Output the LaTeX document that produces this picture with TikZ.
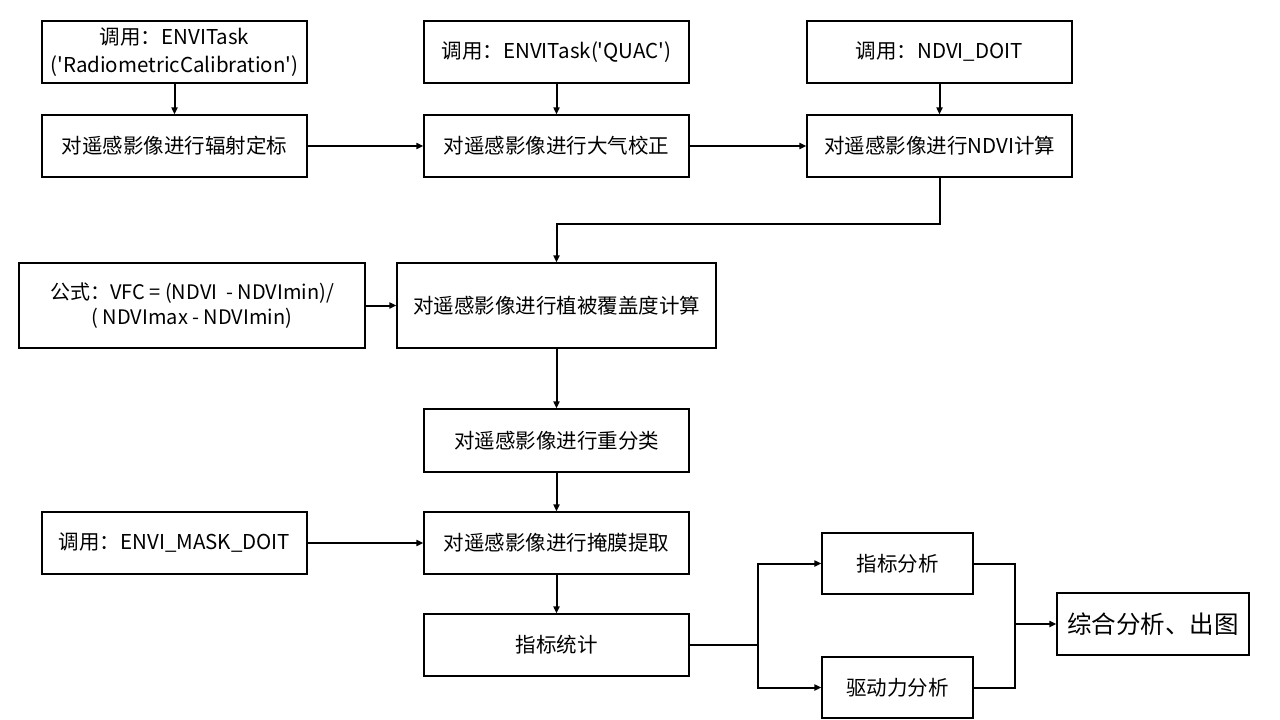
\documentclass[tikz,border=0pt]{standalone}
\usepackage{fontspec}
\setmainfont{Noto Sans CJK SC}[Ligatures=TeXOff]
\usetikzlibrary{arrows.meta}
\begin{document}
\begin{tikzpicture}[x=1pt,y=-1pt,
  box/.style={draw=black,line width=1.2pt,inner sep=0pt,align=center,
    font=\fontsize{20.5}{28}\selectfont,minimum width=265pt,minimum height=62pt},
  conn/.style={line width=2pt},
  arr/.style={conn,-{Triangle[length=7pt,width=6pt]}}]
\useasboundingbox (0,0) rectangle (1280,720);
\node[box] (c1) at (174.5,52) {调用：ENVITask\\('RadiometricCalibration')};
\node[box] (b1) at (174.5,146) {对遥感影像进行辐射定标};
\node[box] (c2) at (556.5,52) {调用：ENVITask('QUAC')};
\node[box] (b2) at (556.5,146) {对遥感影像进行大气校正};
\node[box] (c3) at (939.5,52) {调用：NDVI\_DOIT};
\node[box] (b3) at (939.5,146) {对遥感影像进行NDVI计算};
\node[box,minimum width=346pt,minimum height=85pt,font=\fontsize{20}{25}\selectfont] (f) at (192,305.5) {公式：VFC = (NDVI\ \ - NDVImin)/\\( NDVImax - NDVImin)};
\node[box,minimum width=319pt,minimum height=85pt] (b4) at (556.5,305.5) {对遥感影像进行植被覆盖度计算};
\node[box,minimum height=63pt] (b5) at (556.5,440.5) {对遥感影像进行重分类};
\node[box] (c4) at (174.5,543) {调用：ENVI\_MASK\_DOIT};
\node[box] (b6) at (556.5,543) {对遥感影像进行掩膜提取};
\node[box] (b7) at (556.5,645) {指标统计};
\node[box,minimum width=151pt,minimum height=61pt] (a1) at (897.5,563.5) {指标分析};
\node[box,minimum width=151pt,minimum height=61pt] (a2) at (897.5,687.5) {驱动力分析};
\node[box,minimum width=192pt,minimum height=62pt,font=\fontsize{24.5}{30}\selectfont] (fin) at (1153,624) {综合分析、出图};
\coordinate (j) at (1015,624);
\draw[arr] (c1) -- (b1);
\draw[arr] (c2) -- (b2);
\draw[arr] (c3) -- (b3);
\draw[arr] (b1) -- (b2);
\draw[arr] (b2) -- (b3);
\draw[arr] (b3.south) -- ++(0,46) -| (b4.north);
\draw[arr] (f) -- (b4);
\draw[arr] (b4) -- (b5);
\draw[arr] (b5) -- (b6);
\draw[arr] (c4) -- (b6);
\draw[arr] (b6) -- (b7);
\draw[arr] (b7.east) -- ++(68,0) |- (a1.west);
\draw[arr] (b7.east) -- ++(68,0) |- (a2.west);
\draw[conn] (a1.east) -| (j);
\draw[conn] (a2.east) -| (j);
\draw[arr] (j) -- (fin.west);
\end{tikzpicture}
\end{document}
